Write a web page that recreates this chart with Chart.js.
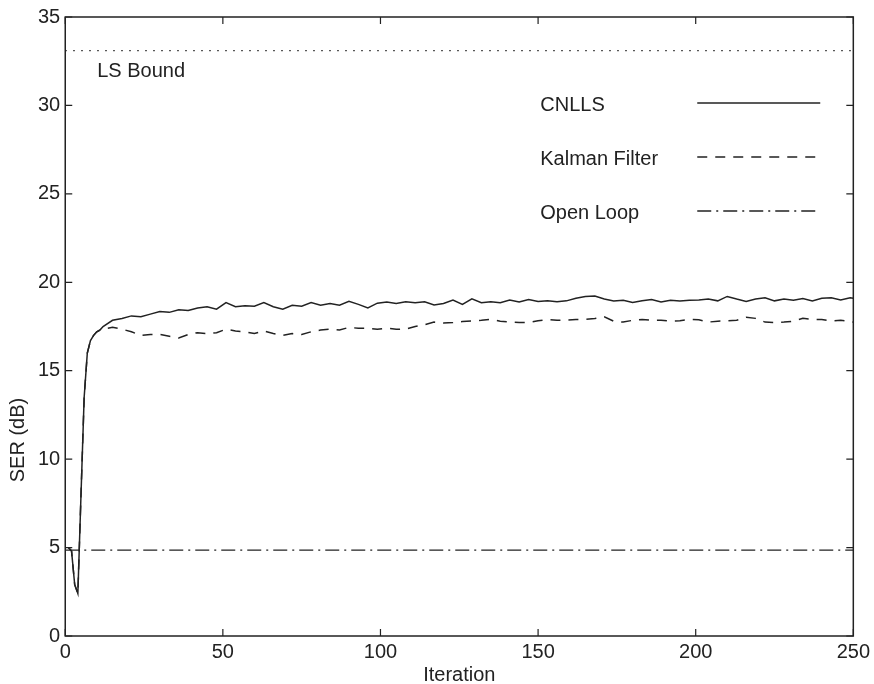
<!DOCTYPE html>
<html>
<head>
<meta charset="utf-8">
<script src="https://cdn.jsdelivr.net/npm/chart.js@4/dist/chart.umd.min.js"></script>
<style>
  html, body { margin: 0; padding: 0; background: #fff; }
  #wrap { width: 874px; height: 684px; }
</style>
</head>
<body>
<div id="wrap"><canvas id="chart"></canvas></div>
<script>
const iterations = [
  1, 2, 3, 4, 5, 6, 7, 8, 9, 10, 11,
  12, 15, 18, 21, 24, 27, 30, 33, 36, 39, 42, 45, 48, 51, 54, 57, 60,
  63, 66, 69, 72, 75, 78, 81, 84, 87, 90, 93, 96, 99, 102, 105, 108,
  111, 114, 117, 120, 123, 126, 129, 132, 135, 138, 141, 144, 147, 150,
  153, 156, 159, 162, 165, 168, 171, 174, 177, 180, 183, 186, 189, 192,
  195, 198, 201, 204, 207, 210, 213, 216, 219, 222, 225, 228, 231, 234,
  237, 240, 243, 246, 249, 250
];

const cnlls = [
  5.0, 4.8, 2.9, 2.4, 8.0, 13.5, 16.0, 16.7, 17.0, 17.2, 17.3,
  17.5, 17.85, 17.95, 18.1, 18.05, 18.2, 18.35, 18.3, 18.45, 18.4, 18.55, 18.62, 18.48, 18.85, 18.62, 18.68, 18.65,
  18.85, 18.62, 18.48, 18.7, 18.65, 18.85, 18.7, 18.8, 18.7, 18.92, 18.75, 18.55, 18.82, 18.88, 18.8, 18.9,
  18.85, 18.9, 18.72, 18.8, 19.0, 18.75, 19.07, 18.85, 18.9, 18.85, 19.0, 18.88, 19.02, 18.92,
  18.95, 18.9, 18.95, 19.1, 19.2, 19.22, 19.05, 18.94, 18.98, 18.86, 18.95, 19.03, 18.88, 18.98,
  18.94, 18.98, 19.0, 19.05, 18.95, 19.2, 19.05, 18.92, 19.05, 19.13, 18.95, 19.05, 18.98, 19.08,
  18.95, 19.1, 19.12, 19.0, 19.12, 19.1
];

const kalman = [
  5.0, 4.8, 2.9, 2.4, 8.0, 13.5, 16.0, 16.7, 17.0, 17.2, 17.3,
  17.35, 17.45, 17.35, 17.2, 17.0, 17.05, 17.05, 16.95, 16.85, 17.05, 17.15, 17.1, 17.15, 17.35, 17.25, 17.2, 17.1,
  17.25, 17.1, 17.0, 17.1, 17.05, 17.2, 17.3, 17.35, 17.3, 17.45, 17.4, 17.4, 17.35, 17.4, 17.35, 17.35,
  17.5, 17.6, 17.75, 17.7, 17.72, 17.78, 17.82, 17.85, 17.9, 17.8, 17.75, 17.72, 17.72, 17.82,
  17.9, 17.85, 17.86, 17.9, 17.9, 17.95, 18.05, 17.8, 17.75, 17.85, 17.9, 17.85, 17.86, 17.8,
  17.82, 17.9, 17.88, 17.75, 17.8, 17.82, 17.85, 18.02, 17.96, 17.75, 17.72, 17.75, 17.8, 17.96,
  17.9, 17.9, 17.82, 17.85, 17.78, 17.75
];

const openLoopX = [0, 250];
const openLoop = [4.85, 4.85];
const lsBoundX = [0, 250];
const lsBound = [33.1, 33.1];

const xTicks = [0, 50, 100, 150, 200, 250];
const yTicks = [0, 5, 10, 15, 20, 25, 30, 35];

const KALMAN_DASH = [10, 8];
const OPEN_DASH = [14, 5, 2, 5];

const legendItems = [
  { label: 'CNLLS', dash: [] },
  { label: 'Kalman Filter', dash: KALMAN_DASH },
  { label: 'Open Loop', dash: OPEN_DASH }
];

const INK = '#222';
const FONT = '"Liberation Sans", Arial, sans-serif';

const pts = (xs, ys) => xs.map((x, i) => ({ x, y: ys[i] }));

// box frame, inward ticks, legend and annotations (matlab-like look)
const decor = {
  id: 'decor',
  afterDraw(chart) {
    const { ctx, chartArea: a, scales } = chart;
    ctx.save();
    ctx.strokeStyle = INK;
    ctx.lineWidth = 1.5;
    ctx.setLineDash([]);
    ctx.strokeRect(a.left, a.top, a.right - a.left, a.bottom - a.top);

    const tl = 7;
    ctx.lineWidth = 1.2;
    ctx.beginPath();
    xTicks.forEach(v => {
      const x = scales.x.getPixelForValue(v);
      ctx.moveTo(x, a.bottom); ctx.lineTo(x, a.bottom - tl);
      ctx.moveTo(x, a.top); ctx.lineTo(x, a.top + tl);
    });
    yTicks.forEach(v => {
      const y = scales.y.getPixelForValue(v);
      ctx.moveTo(a.left, y); ctx.lineTo(a.left + tl, y);
      ctx.moveTo(a.right, y); ctx.lineTo(a.right - tl, y);
    });
    ctx.stroke();

    ctx.fillStyle = INK;
    ctx.font = '20px ' + FONT;
    ctx.textBaseline = 'middle';
    ctx.textAlign = 'left';
    ctx.fillText('LS Bound', a.left + 32, a.top + 54);

    // legend
    legendItems.forEach((it, i) => {
      const y = a.top + 88 + i * 54;
      ctx.fillText(it.label, a.left + 475, y);
      ctx.setLineDash(it.dash);
      ctx.lineWidth = 1.5;
      ctx.beginPath();
      ctx.moveTo(a.left + 632, y - 2);
      ctx.lineTo(a.left + 755, y - 2);
      ctx.stroke();
    });
    ctx.setLineDash([]);

    // axis titles
    ctx.textAlign = 'center';
    ctx.fillText('Iteration', (a.left + a.right) / 2, a.bottom + 39);
    ctx.translate(18, 440);
    ctx.rotate(-Math.PI / 2);
    ctx.fillText('SER (dB)', 0, 0);
    ctx.restore();
  }
};

const lineStyle = { borderColor: INK, borderWidth: 1.5, pointRadius: 0, tension: 0, fill: false };

new Chart(document.getElementById('chart'), {
  type: 'line',
  data: {
    datasets: [
      { label: 'CNLLS', data: pts(iterations, cnlls), ...lineStyle },
      { label: 'Kalman Filter', data: pts(iterations, kalman), ...lineStyle, borderDash: KALMAN_DASH },
      { label: 'Open Loop', data: pts(openLoopX, openLoop), ...lineStyle, borderWidth: 1.3, borderDash: OPEN_DASH },
      { label: 'LS Bound', data: pts(lsBoundX, lsBound), ...lineStyle, borderWidth: 1.4, borderDash: [1.5, 6.5] }
    ]
  },
  options: {
    responsive: true,
    maintainAspectRatio: false,
    animation: false,
    layout: { padding: { left: 33, right: 2, top: 4, bottom: 16 } },
    plugins: { legend: { display: false }, tooltip: { enabled: false } },
    scales: {
      x: {
        type: 'linear', min: 0, max: 250,
        grid: { display: false, drawTicks: false },
        border: { display: false },
        afterBuildTicks: s => { s.ticks = xTicks.map(v => ({ value: v })); },
        ticks: { color: INK, padding: 4, maxRotation: 0, font: { family: FONT, size: 20 } }
      },
      y: {
        type: 'linear', min: 0, max: 35,
        grid: { display: false, drawTicks: false },
        border: { display: false },
        afterBuildTicks: s => { s.ticks = yTicks.map(v => ({ value: v })); },
        ticks: { color: INK, padding: 5, font: { family: FONT, size: 20 } }
      }
    }
  },
  plugins: [decor]
});
</script>
</body>
</html>
